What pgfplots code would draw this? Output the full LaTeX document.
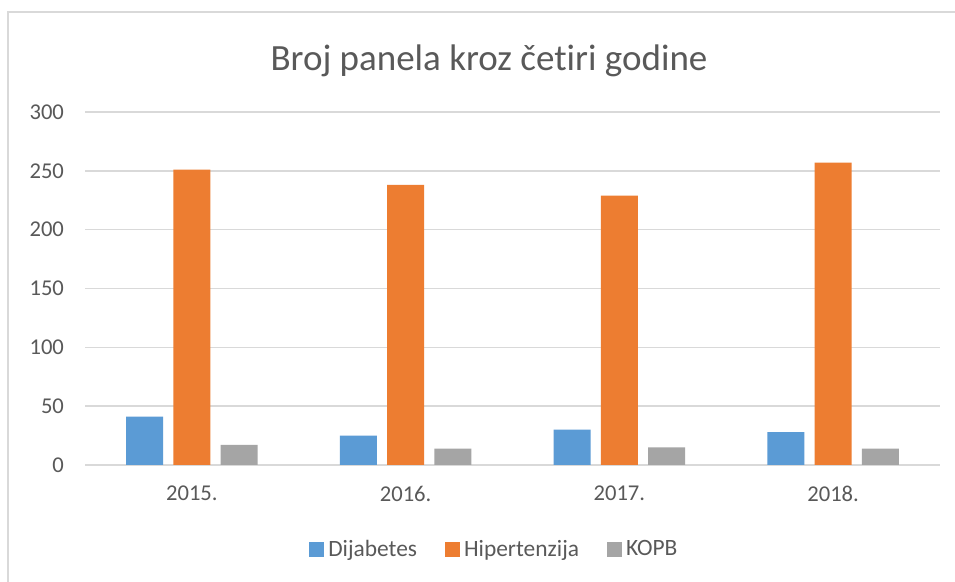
\documentclass[border=0pt]{standalone}
\usepackage{pgfplots}
\pgfplotsset{compat=1.18}
\usepackage{fontspec}
\setmainfont{Carlito}[RawFeature={-liga;-clig;-calt;-dlig}]
\definecolor{cblue}{HTML}{5B9BD5}
\definecolor{corange}{HTML}{ED7D31}
\definecolor{cgray}{HTML}{A5A5A5}
\definecolor{gridgray}{HTML}{D9D9D9}
\definecolor{txtgray}{HTML}{595959}
\definecolor{bordergray}{HTML}{D9D9D9}
\begin{document}
\begin{tikzpicture}[x=0.5pt,y=0.5pt]
\path[use as bounding box, fill=white] (0,0) rectangle (955,582);
\draw[bordergray, line width=1pt] (8,0) -- (8,570) -- (955,570);
\node[text=txtgray, font=\fontsize{18.5}{22}\selectfont] at (489,521) {Broj panela kroz čet\kern0pt iri godine};
\begin{axis}[
  at={(85*0.5pt,117*0.5pt)}, anchor=south west,
  scale only axis, width=427.5pt, height=176.5pt,
  xmin=-0.5, xmax=3.5, ymin=0, ymax=300,
  ytick={0,50,...,300},
  xtick={0,1,2,3},
  xticklabels={2015.,2016.,2017.,2018.},
  axis line style={draw=none},
  major tick length=0pt,
  ymajorgrids, grid style={gridgray, line width=0.8pt},
  ticklabel style={text=txtgray, font=\fontsize{11.3}{13}\selectfont},
  yticklabel style={xshift=-7pt},
  xticklabel style={yshift=-7pt},
  /pgf/number format/assume math mode=true,
  ybar, bar width=0.173,
  legend columns=3,
  legend style={at={(0.48,-0.24)}, anchor=center, draw=none, fill=none,
    font=\fontsize{11.7}{13}\selectfont, text=txtgray,
    /tikz/every even column/.append style={column sep=12pt}},
  legend image code/.code={\fill[#1] (0pt,-3.7pt) rectangle (7.5pt,3.8pt);},
]
\addplot[fill=cblue, draw=none, bar shift=-0.221] coordinates {(0,41) (1,25) (2,30) (3,28)};
\addplot[fill=corange, draw=none, bar shift=0] coordinates {(0,251) (1,238) (2,229) (3,257)};
\addplot[fill=cgray, draw=none, bar shift=0.221] coordinates {(0,17) (1,14) (2,15) (3,14)};
\legend{Dijabetes,Hipertenzija,KOPB}
\end{axis}
\end{tikzpicture}
\end{document}
